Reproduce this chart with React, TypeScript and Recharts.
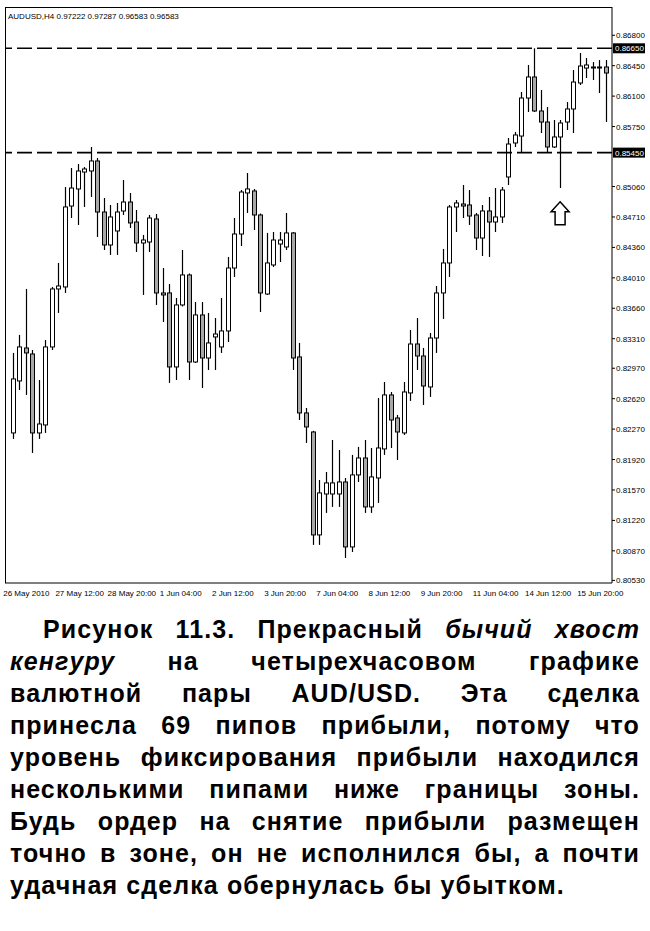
import { Bar, ComposedChart, ReferenceDot, ReferenceLine, XAxis, YAxis } from 'recharts'

// AUDUSD H4, 26 May - 15 Jun 2010, one entry per bar
const opens = [
  0.82226, 0.82824, 0.83203, 0.83134, 0.82226, 0.82318, 0.83215, 0.83882, 0.83905, 0.84836,
  0.85032, 0.85227, 0.85239, 0.85354, 0.84767, 0.84388, 0.84549, 0.84779, 0.84882, 0.84652,
  0.84411, 0.84422, 0.84687, 0.83836, 0.83836, 0.82985, 0.83698, 0.84043, 0.83042, 0.83583,
  0.83088, 0.8333, 0.83215, 0.83399, 0.84123, 0.84514, 0.84986, 0.85009, 0.84733, 0.83824,
  0.84158, 0.84399, 0.84365, 0.84526, 0.831, 0.82456, 0.82237, 0.81053, 0.81524, 0.81524,
  0.81524, 0.81662, 0.80915, 0.81743, 0.81938, 0.81375, 0.81708, 0.82042, 0.82663, 0.82398,
  0.82226, 0.82686, 0.83249, 0.83111, 0.82755, 0.83318, 0.83836, 0.84181, 0.84825, 0.84859,
  0.84848, 0.84733, 0.84468, 0.84779, 0.84652, 0.8471, 0.8517, 0.85561, 0.85641, 0.86078,
  0.8632, 0.85929, 0.85802, 0.85515, 0.8563, 0.85802, 0.85952, 0.86251, 0.86423, 0.86435,
  0.86423, 0.86435,
]
const highs = [
  0.83146, 0.83353, 0.83882, 0.8318, 0.82835, 0.83295, 0.83905, 0.84181, 0.85055, 0.85273,
  0.85319, 0.85285, 0.85515, 0.85388, 0.84928, 0.84848, 0.84871, 0.85135, 0.84986, 0.8479,
  0.84503, 0.84733, 0.84744, 0.84123, 0.83939, 0.83778, 0.8433, 0.8406, 0.83732, 0.83732,
  0.83606, 0.83548, 0.83778, 0.8425, 0.84698, 0.8502, 0.85216, 0.85032, 0.8475, 0.84526,
  0.84537, 0.84537, 0.84756, 0.84537, 0.83261, 0.82513, 0.8225, 0.81685, 0.81777, 0.82145,
  0.8203, 0.81708, 0.81973, 0.82065, 0.82145, 0.82053, 0.82628, 0.82812, 0.82697, 0.82433,
  0.82812, 0.8341, 0.83548, 0.83203, 0.83376, 0.83916, 0.84342, 0.84848, 0.84905, 0.85078,
  0.8502, 0.84756, 0.84848, 0.8494, 0.85043, 0.85055, 0.85618, 0.85687, 0.86147, 0.86458,
  0.8665, 0.8617, 0.85975, 0.85825, 0.85825, 0.86032, 0.864, 0.86596, 0.86538, 0.86492,
  0.86515, 0.86515,
]
const lows = [
  0.82157, 0.8272, 0.82663, 0.81996, 0.82157, 0.82226, 0.8318, 0.83606, 0.83836, 0.84698,
  0.84618, 0.84825, 0.8494, 0.8448, 0.8433, 0.84273, 0.84273, 0.84733, 0.84583, 0.84307,
  0.83813, 0.84307, 0.83698, 0.83502, 0.82801, 0.82835, 0.8368, 0.82835, 0.83031, 0.82743,
  0.8295, 0.8295, 0.83146, 0.83272, 0.8402, 0.84376, 0.84756, 0.8456, 0.83617, 0.83813,
  0.84135, 0.84192, 0.8433, 0.8295, 0.82375, 0.82111, 0.80938, 0.80938, 0.81306, 0.81375,
  0.81375, 0.80788, 0.80857, 0.81662, 0.81306, 0.81306, 0.81421, 0.81973, 0.82053, 0.81915,
  0.82203, 0.82594, 0.8295, 0.82548, 0.8264, 0.83146, 0.83537, 0.8402, 0.84537, 0.84698,
  0.84618, 0.8433, 0.84261, 0.8425, 0.84537, 0.84641, 0.85078, 0.85515, 0.8545, 0.85917,
  0.85917, 0.85676, 0.8545, 0.85503, 0.85043, 0.8571, 0.85676, 0.86228, 0.86308, 0.86285,
  0.86136, 0.85802,
]
const closes = [
  0.82847, 0.83215, 0.83146, 0.82226, 0.82329, 0.83215, 0.83882, 0.83916, 0.84825, 0.85043,
  0.85239, 0.85262, 0.85354, 0.84767, 0.84388, 0.8471, 0.84767, 0.84882, 0.84641, 0.84411,
  0.84445, 0.84698, 0.83836, 0.83813, 0.82985, 0.83698, 0.84043, 0.83042, 0.83583, 0.83088,
  0.83261, 0.83364, 0.83399, 0.84123, 0.84514, 0.84997, 0.85032, 0.84733, 0.83836, 0.84181,
  0.84445, 0.84445, 0.84526, 0.83088, 0.82456, 0.82295, 0.81053, 0.81536, 0.81651, 0.81651,
  0.81662, 0.80915, 0.81743, 0.81938, 0.81375, 0.8172, 0.82053, 0.82663, 0.82375, 0.82237,
  0.82697, 0.83249, 0.83111, 0.82766, 0.83318, 0.83836, 0.84181, 0.84825, 0.84871, 0.84836,
  0.84721, 0.84468, 0.84779, 0.84652, 0.8471, 0.8502, 0.85549, 0.85653, 0.86078, 0.8632,
  0.85929, 0.85802, 0.85515, 0.8563, 0.85791, 0.85952, 0.86262, 0.86446, 0.86458, 0.86423,
  0.86435, 0.86366,
]

// one time label every 8 bars
const timeLabels = [
  '26 May 2010', '27 May 12:00', '28 May 20:00', '1 Jun 04:00', '2 Jun 12:00', '3 Jun 20:00',
  '7 Jun 04:00', '8 Jun 12:00', '9 Jun 20:00', '11 Jun 04:00', '14 Jun 12:00', '15 Jun 20:00',
]
const labelStep = 8

const priceTicks = [
  0.868, 0.8645, 0.861, 0.8575, 0.8506, 0.8471, 0.8436, 0.8401, 0.8366, 0.8331,
  0.8297, 0.8262, 0.8227, 0.8192, 0.8157, 0.8122, 0.8087, 0.8053,
]
const zoneTop = 0.8665
const zoneBottom = 0.8545
const tailBar = 84
const arrowPrice = 0.8477

const data = opens.map((open, i) => ({
  i,
  open,
  high: highs[i],
  low: lows[i],
  close: closes[i],
  range: [lows[i], highs[i]],
}))

const font = '"Liberation Sans", Arial, sans-serif'

function Candle(props: any) {
  const { x, y, width, height, payload } = props
  if (!payload) return null
  const { open, close, high, low } = payload
  const top = height < 0 ? y + height : y
  const h = Math.abs(height)
  const cx = Math.round(x + width / 2) + 0.5
  const k = h / (high - low)
  const bodyTop = top + (high - Math.max(open, close)) * k
  const bodyBottom = top + (high - Math.min(open, close)) * k
  return (
    <g>
      <line x1={cx} x2={cx} y1={top} y2={top + h} stroke='#000' strokeWidth={1.2} />
      <rect
        x={cx - 2}
        y={bodyTop}
        width={4}
        height={Math.max(bodyBottom - bodyTop, 1)}
        fill={close >= open ? '#fff' : '#a8a8a8'}
        stroke='#000'
        strokeWidth={1}
      />
    </g>
  )
}

function PriceBox({ viewBox, text }: any) {
  const { x, y, width } = viewBox
  return (
    <g>
      <rect x={x + width + 1} y={y - 5} width={32} height={10} fill='#000' />
      <text x={x + width + 3} y={y + 3} fill='#fff' fontSize={8} fontFamily={font}>
        {text}
      </text>
    </g>
  )
}

function UpArrow({ cx, cy }: any) {
  const pts = [
    [cx, cy - 10],
    [cx + 9, cy],
    [cx + 5, cy],
    [cx + 5, cy + 13],
    [cx - 5, cy + 13],
    [cx - 5, cy],
    [cx - 9, cy],
  ]
  return <polygon points={pts.map((p) => p.join(',')).join(' ')} fill='#fff' stroke='#000' strokeWidth={1.5} />
}

function TimeTick({ x, y, payload }: any) {
  return (
    <text x={x - 9} y={y + 13} fontSize={8} fontFamily={font} fill='#000'>
      {timeLabels[payload.value / labelStep]}
    </text>
  )
}

function PriceTick({ x, y, payload }: any) {
  return (
    <text x={x} y={y + 3} fontSize={8} fontFamily={font} fill='#000'>
      {payload.value.toFixed(5)}
    </text>
  )
}

const captionLines = [
  <>Рисунок 11.3. Прекрасный <i>бычий хвост</i></>,
  <><i>кенгуру</i> на четырехчасовом графике</>,
  <>валютной пары AUD/USD. Эта сделка</>,
  <>принесла 69 пипов прибыли, потому что</>,
  <>уровень фиксирования прибыли находился</>,
  <>несколькими пипами ниже границы зоны.</>,
  <>Будь ордер на снятие прибыли размещен</>,
  <>точно в зоне, он не исполнился бы, а почти</>,
  <>удачная сделка обернулась бы убытком.</>,
]

export default function App() {
  return (
    <div style={{ position: 'absolute', left: 0, top: 0, width: 650, height: 931, background: '#fff' }}>
      <ComposedChart width={650} height={605} data={data} margin={{ top: 7, right: 0, bottom: 0, left: 5 }}>
        <XAxis
          dataKey='i'
          type='category'
          ticks={timeLabels.map((_, k) => k * labelStep)}
          interval={0}
          tick={<TimeTick />}
          tickLine={false}
          tickSize={0}
          tickMargin={0}
          height={22}
          padding={{ left: 4, right: 3 }}
          axisLine={{ stroke: '#000' }}
        />
        <YAxis
          orientation='right'
          domain={[0.805, 0.87125]}
          ticks={priceTicks}
          interval={0}
          width={38}
          tick={<PriceTick />}
          tickSize={3}
          tickMargin={1}
          tickLine={{ stroke: '#000' }}
          axisLine={{ stroke: '#000' }}
          allowDataOverflow
        />
        <ReferenceLine
          y={zoneTop}
          stroke='#000'
          strokeWidth={1.6}
          strokeDasharray='15 5'
          label={(p: any) => <PriceBox viewBox={p.viewBox} text={zoneTop.toFixed(5)} />}
        />
        <ReferenceLine
          y={zoneBottom}
          stroke='#000'
          strokeWidth={1.6}
          strokeDasharray='15 5'
          label={(p: any) => <PriceBox viewBox={p.viewBox} text={zoneBottom.toFixed(5)} />}
        />
        <Bar dataKey='range' barSize={5} shape={<Candle />} isAnimationActive={false} />
        <ReferenceDot x={tailBar} y={arrowPrice} r={1} shape={<UpArrow />} />
      </ComposedChart>
      <div
        style={{
          position: 'absolute',
          left: 5,
          top: 7,
          width: 607,
          height: 576,
          borderLeft: '1px solid #000',
          borderTop: '1px solid #000',
          boxSizing: 'border-box',
          pointerEvents: 'none',
        }}
      />
      <div
        style={{
          position: 'absolute',
          left: 8,
          top: 12,
          fontFamily: font,
          fontSize: 8,
          lineHeight: '10px',
          whiteSpace: 'nowrap',
        }}
      >
        AUDUSD,H4 0.97222 0.97287 0.96583 0.96583
      </div>
      <div
        style={{
          position: 'absolute',
          left: 10,
          top: 613,
          width: 630,
          fontFamily: font,
          fontWeight: 'bold',
          fontSize: 25,
          letterSpacing: '1.1px',
          lineHeight: '32px',
          color: '#000',
        }}
      >
        {captionLines.map((line, k) => {
          const last = k === captionLines.length - 1
          return (
            <div
              key={k}
              style={{
                whiteSpace: 'nowrap',
                textAlign: last ? 'left' : 'justify',
                textAlignLast: last ? 'left' : 'justify',
                paddingLeft: k === 0 ? 33 : 0,
              }}
            >
              {line}
            </div>
          )
        })}
      </div>
    </div>
  )
}
